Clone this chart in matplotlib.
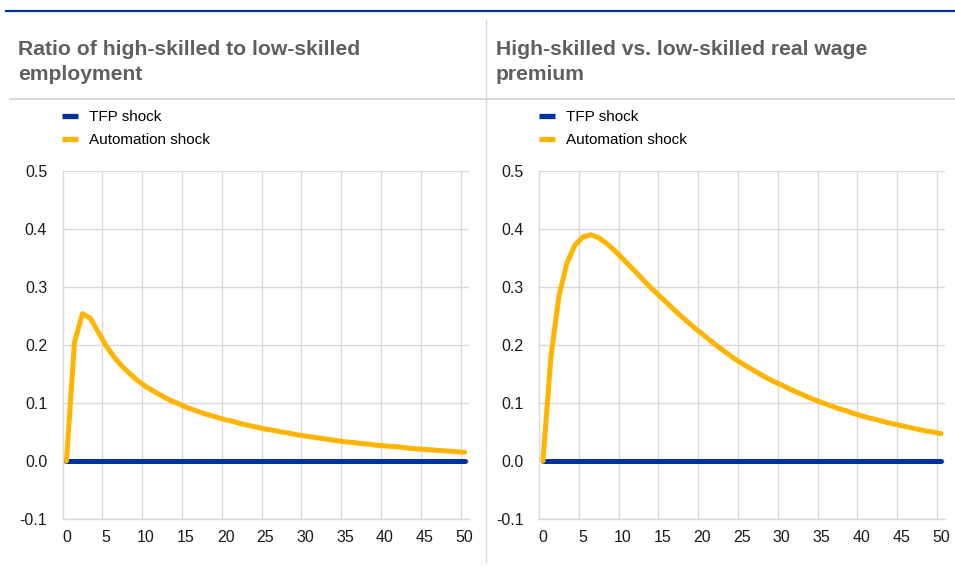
import matplotlib
matplotlib.use("Agg")
import matplotlib.pyplot as plt
from matplotlib.lines import Line2D

plt.rcParams['font.family'] = ['Liberation Sans', 'DejaVu Sans']

# impulse responses, quarters 0..50
periods = list(range(51))

emp_tfp = [0.0, 0.0, 0.0, 0.0, 0.0, 0.0, 0.0, 0.0, 0.0, 0.0, 0.0,
           0.0, 0.0, 0.0, 0.0, 0.0, 0.0, 0.0, 0.0, 0.0, 0.0,
           0.0, 0.0, 0.0, 0.0, 0.0, 0.0, 0.0, 0.0, 0.0, 0.0,
           0.0, 0.0, 0.0, 0.0, 0.0, 0.0, 0.0, 0.0, 0.0, 0.0,
           0.0, 0.0, 0.0, 0.0, 0.0, 0.0, 0.0, 0.0, 0.0, 0.0]
emp_auto = [0.000, 0.204, 0.254, 0.246, 0.222, 0.198, 0.179, 0.163, 0.150, 0.138, 0.128,
            0.120, 0.112, 0.105, 0.099, 0.093, 0.088, 0.083, 0.079, 0.075, 0.071,
            0.068, 0.064, 0.061, 0.058, 0.055, 0.053, 0.050, 0.048, 0.045, 0.043,
            0.041, 0.039, 0.037, 0.035, 0.033, 0.032, 0.030, 0.029, 0.027, 0.026,
            0.025, 0.024, 0.022, 0.021, 0.020, 0.019, 0.018, 0.017, 0.016, 0.015]

wage_tfp = [0.0, 0.0, 0.0, 0.0, 0.0, 0.0, 0.0, 0.0, 0.0, 0.0, 0.0,
            0.0, 0.0, 0.0, 0.0, 0.0, 0.0, 0.0, 0.0, 0.0, 0.0,
            0.0, 0.0, 0.0, 0.0, 0.0, 0.0, 0.0, 0.0, 0.0, 0.0,
            0.0, 0.0, 0.0, 0.0, 0.0, 0.0, 0.0, 0.0, 0.0, 0.0,
            0.0, 0.0, 0.0, 0.0, 0.0, 0.0, 0.0, 0.0, 0.0, 0.0]
wage_auto = [0.000, 0.180, 0.284, 0.341, 0.372, 0.386, 0.390, 0.385, 0.375, 0.363, 0.349,
             0.335, 0.321, 0.306, 0.293, 0.280, 0.267, 0.254, 0.242, 0.230, 0.219,
             0.208, 0.197, 0.187, 0.177, 0.168, 0.160, 0.152, 0.144, 0.137, 0.131,
             0.124, 0.118, 0.112, 0.106, 0.101, 0.096, 0.091, 0.087, 0.082, 0.078,
             0.074, 0.071, 0.067, 0.064, 0.061, 0.058, 0.055, 0.052, 0.050, 0.047]

titles = [["Ratio of high-skilled to low-skilled", "employment"],
          ["High-skilled vs. low-skilled real wage", "premium"]]
labels = ["TFP shock", "Automation shock"]
x_ticks = [0, 5, 10, 15, 20, 25, 30, 35, 40, 45, 50]
y_ticks = [-0.1, 0.0, 0.1, 0.2, 0.3, 0.4, 0.5]

BLUE = "#003299"
YELLOW = "#FFB400"
GRID = "#d9d9d9"

W, H = 955, 570
fig = plt.figure(figsize=(W / 100, H / 100), dpi=100)

def px(x0, y0, x1, y1):
    return [x0 / W, 1 - y1 / H, (x1 - x0) / W, (y1 - y0) / H]

panels = [
    (px(62.5, 171, 468.5, 519), emp_tfp, emp_auto, titles[0], 18, 62),
    (px(539, 171, 945, 519), wage_tfp, wage_auto, titles[1], 496, 539),
]

for rect, tfp, auto, title, tx, lx in panels:
    ax = fig.add_axes(rect)
    ax.plot(periods, tfp, color=BLUE, lw=3.6, solid_capstyle='round', zorder=3)
    ax.plot(periods, auto, color=YELLOW, lw=3.6, solid_capstyle='round', zorder=4)
    ax.set_xlim(-0.5, 50.5)
    ax.set_ylim(-0.1, 0.5)
    ax.set_xticks(x_ticks)
    ax.set_xticklabels([str(v) for v in x_ticks])
    ax.set_yticks(y_ticks)
    ax.set_yticklabels(["%.1f" % v for v in y_ticks])
    ax.set_xticks([v - 0.5 for v in range(5, 51, 5)], minor=True)
    ax.tick_params(which='both', length=0)
    ax.tick_params(axis='x', labelsize=11.5, pad=8, colors='#1a1a1a')
    ax.tick_params(axis='y', labelsize=11.5, pad=11, colors='#1a1a1a')
    ax.grid(axis='y', which='major', color=GRID, lw=1.0)
    ax.grid(axis='x', which='minor', color=GRID, lw=1.0)
    ax.grid(axis='x', which='major', visible=False)
    for side in ['top', 'right']:
        ax.spines[side].set_visible(False)
    for side in ['left', 'bottom']:
        ax.spines[side].set_color(GRID)
        ax.spines[side].set_linewidth(1.0)

    # title in two lines
    fig.text(tx / W, 1 - 55 / H, title[0], fontsize=15.2, fontweight='bold',
             color='#5f5f5f', ha='left', va='baseline')
    fig.text(tx / W, 1 - 79.5 / H, title[1], fontsize=15.2, fontweight='bold',
             color='#5f5f5f', ha='left', va='baseline')

    handles = [Line2D([], [], color=BLUE, lw=3.8, solid_capstyle='butt'),
               Line2D([], [], color=YELLOW, lw=3.8, solid_capstyle='butt')]
    fig.legend(handles, labels, loc='upper left', bbox_to_anchor=(lx / W, 1 - 110 / H),
               frameon=False, fontsize=11, handlelength=1.05, handletextpad=0.7,
               labelspacing=0.58, borderpad=0, borderaxespad=0)

# decoration lines
fig.add_artist(Line2D([6 / W, 1], [1 - 11 / H, 1 - 11 / H], color=BLUE, lw=1.6))
fig.add_artist(Line2D([10 / W, 1], [1 - 99 / H, 1 - 99 / H], color=GRID, lw=1.4))
fig.add_artist(Line2D([486 / W, 486 / W], [1 - 20 / H, 1 - 562 / H], color=GRID, lw=1.0))

fig.savefig("out.png", dpi=100)
